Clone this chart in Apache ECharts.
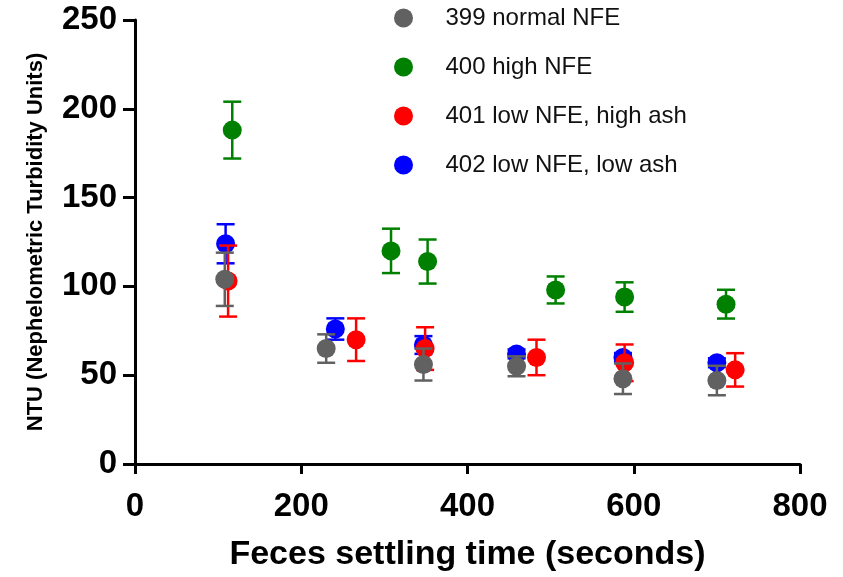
<!DOCTYPE html>
<html>
<head>
<meta charset="utf-8">
<script src="https://cdn.jsdelivr.net/npm/echarts@6/dist/echarts.min.js"></script>
<style>
  html, body { margin: 0; padding: 0; background: #fff; }
  #chart { width: 843px; height: 577px; }
</style>
</head>
<body>
<div id="chart"></div>
<script>
// settling time (s), mean NTU, error (SD) per diet
var names = ['399 normal NFE', '400 high NFE', '401 low NFE, high ash', '402 low NFE, low ash'];
var colors = ['#616161', '#008000', '#ff0000', '#0000ff'];

var x399 = [108, 230, 347, 459, 587, 700];
var y399 = [104, 65, 56, 55, 48, 47];
var e399 = [15, 8, 9, 5.6, 8.6, 8.3];

var x400 = [117, 308, 352, 506, 589, 711];
var y400 = [188, 120, 114, 98, 94, 90];
var e400 = [16, 12.5, 12.4, 7.6, 8.3, 8.1];

var x401 = [112, 266, 349, 483, 589, 722];
var y401 = [103, 70, 65, 60, 57, 53];
var e401 = [20, 12, 12, 10, 10.3, 9.4];

var x402 = [109, 241, 347, 459, 587, 700];
var y402 = [124, 76, 67, 62, 60, 57];
var e402 = [11, 6, 5, 2.5, 2.5, 2.5];

var xTicks = [0, 200, 400, 600, 800];
var yTicks = [0, 50, 100, 150, 200, 250];

var groups = [
  { x: x399, y: y399, e: e399 },
  { x: x400, y: y400, e: e400 },
  { x: x401, y: y401, e: e401 },
  { x: x402, y: y402, e: e402 }
];
// drawing order: gray on top, then green, red, blue
var zOf = [8, 6, 4, 2];

var chart = echarts.init(document.getElementById('chart'));

function errorBar(color) {
  return function (params, api) {
    var top = api.coord([api.value(0), api.value(1) + api.value(2)]);
    var bot = api.coord([api.value(0), api.value(1) - api.value(2)]);
    var w = 9;
    var style = { stroke: color, lineWidth: 2.5 };
    return {
      type: 'group',
      children: [
        { type: 'line', shape: { x1: top[0], y1: top[1], x2: bot[0], y2: bot[1] }, style: style },
        { type: 'line', shape: { x1: top[0] - w, y1: top[1], x2: top[0] + w, y2: top[1] }, style: style },
        { type: 'line', shape: { x1: bot[0] - w, y1: bot[1], x2: bot[0] + w, y2: bot[1] }, style: style }
      ]
    };
  };
}

var series = [];
groups.forEach(function (g, i) {
  var pts = g.x.map(function (v, k) { return [v, g.y[k]]; });
  var bars = g.x.map(function (v, k) { return [v, g.y[k], g.e[k]]; });
  series.push({
    name: names[i],
    type: 'scatter',
    symbol: 'circle',
    symbolSize: 19,
    itemStyle: { color: colors[i], opacity: 1 },
    z: zOf[i],
    data: pts
  });
  series.push({
    name: names[i],
    type: 'custom',
    renderItem: errorBar(colors[i]),
    encode: { x: 0, y: 1 },
    itemStyle: { color: colors[i] },
    z: zOf[i] - 1,
    data: bars
  });
});

var axisFont = { fontFamily: 'Liberation Sans, Arial, sans-serif', fontWeight: 'bold', color: '#000' };

var option = {
  animation: false,
  backgroundColor: '#fff',
  grid: { left: 135, right: 43, top: 20, bottom: 113 },
  legend: {
    data: names,
    orient: 'vertical',
    left: 389,
    top: 1,
    icon: 'circle',
    itemWidth: 74,
    itemHeight: 19,
    itemGap: 25,
    selectedMode: false,
    textStyle: { fontFamily: 'Liberation Sans, Arial, sans-serif', fontSize: 24, color: '#111' }
  },
  xAxis: {
    type: 'value',
    min: xTicks[0],
    max: xTicks[xTicks.length - 1],
    interval: 200,
    name: 'Feces settling time (seconds)',
    nameLocation: 'middle',
    nameGap: 74,
    nameTextStyle: Object.assign({ fontSize: 34 }, axisFont),
    axisLine: { show: true, lineStyle: { color: '#000', width: 3 } },
    axisTick: { show: true, length: 10, lineStyle: { color: '#000', width: 3 } },
    axisLabel: Object.assign({ fontSize: 33, margin: 26 }, axisFont),
    splitLine: { show: false }
  },
  yAxis: {
    type: 'value',
    min: yTicks[0],
    max: yTicks[yTicks.length - 1],
    interval: 50,
    name: 'NTU (Nephelometric Turbidity Units)',
    nameLocation: 'middle',
    nameGap: 88,
    nameTextStyle: Object.assign({ fontSize: 22 }, axisFont),
    axisLine: { show: true, lineStyle: { color: '#000', width: 3 } },
    axisTick: { show: true, length: 12, lineStyle: { color: '#000', width: 3 } },
    axisLabel: Object.assign({ fontSize: 33, margin: 18 }, axisFont),
    splitLine: { show: false }
  },
  series: series
};

chart.setOption(option);
</script>
</body>
</html>
